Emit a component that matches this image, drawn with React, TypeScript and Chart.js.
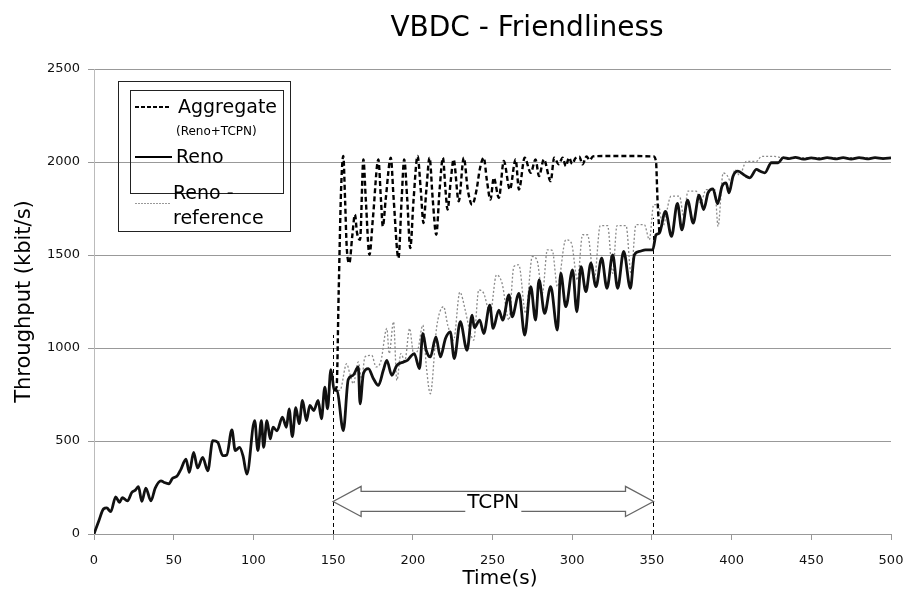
import React, { useEffect, useRef } from 'react';
import { Chart, registerables } from 'chart.js';
Chart.register(...registerables);

// Reno (solid)
const renoT = [0, 3, 6, 8, 10.5, 13.6, 16, 17.8, 21, 23.7, 26, 27.9, 30, 32.5, 35.7, 38.4, 42, 44, 47, 49.3, 52, 54.6, 57.7, 59.8, 62.5, 65, 68.2, 71.4, 74.5, 77.6, 80.8, 83.3, 86.5, 88.6, 91.3, 93.5, 95.9, 100.8, 102.8, 105, 106.4, 108.5, 110.6, 112.3, 114.8, 118.2, 120.7, 122.4, 124.4, 126.6, 128.7, 130.8, 133.3, 135.4, 137.9, 140.6, 142.7, 144.8, 146.5, 148.6, 150.7, 152.5, 156.4, 159.5, 162.5, 165.8, 166.9, 169, 172.1, 175.3, 178.4, 181.5, 183.7, 186.8, 190, 194.2, 196.7, 198.4, 200.9, 204.2, 206.3, 208.4, 211, 214.5, 217.3, 220.5, 223.5, 226, 229.8, 234, 237.2, 238.6, 242, 244.5, 248.3, 250.4, 254, 256.4, 260.3, 262.3, 266.6, 270.2, 274, 277, 279.2, 282.7, 286.5, 290.7, 292.8, 296, 300.2, 302.9, 305.5, 308.6, 311.7, 314.9, 318.5, 321.8, 325.4, 328.5, 332.3, 336.5, 339, 342.1, 346, 350.5, 352.6, 354.7, 358.5, 362.3, 366, 368.8, 372.4, 375.9, 379.6, 382.5, 385.2, 388.3, 391.2, 394, 396.5, 398.4, 400.9, 404, 408.2, 411.4, 415.6, 418, 420.8, 425, 429.2, 432.4, 436, 440, 445, 450, 455, 460, 465, 470, 475, 480, 485, 490, 495, 500];
const renoV = [0, 70, 135, 140, 120, 200, 170, 195, 178, 223, 236, 254, 175, 247, 178, 247, 286, 277, 270, 300, 310, 349, 403, 331, 439, 355, 412, 340, 502, 493, 421, 425, 560, 448, 466, 420, 322, 610, 448, 610, 466, 610, 511, 574, 555, 628, 574, 673, 524, 679, 593, 718, 610, 691, 664, 718, 619, 790, 673, 884, 775, 770, 556, 830, 853, 898, 700, 862, 889, 835, 799, 880, 934, 853, 907, 925, 934, 952, 970, 889, 1078, 988, 952, 1060, 952, 1051, 1087, 943, 1141, 988, 1177, 1110, 1150, 1078, 1231, 1105, 1204, 1150, 1285, 1168, 1294, 1069, 1330, 1150, 1366, 1186, 1330, 1096, 1402, 1222, 1420, 1195, 1438, 1303, 1456, 1330, 1483, 1321, 1501, 1321, 1519, 1321, 1501, 1519, 1528, 1528, 1609, 1618, 1735, 1600, 1778, 1635, 1795, 1672, 1822, 1744, 1834, 1856, 1775, 1870, 1888, 1834, 1924, 1951, 1928, 1915, 1960, 1950, 1942, 1996, 1996, 2023, 2018, 2025, 2015, 2022, 2016, 2024, 2017, 2023, 2016, 2024, 2017, 2023, 2018, 2022];

// Reno - reference (dotted, visible after 150 s)
const refT = [150.7, 154.3, 158.5, 160.5, 162.7, 165.8, 167.9, 170, 174.2, 177, 180, 183.7, 185.2, 187.9, 190, 192.5, 195, 198, 200.5, 203, 206.3, 208.5, 211, 215, 219.3, 222, 225.6, 229.5, 233, 235.5, 238.2, 241.4, 244.5, 248.5, 252.5, 256, 260.3, 263.4, 266.5, 270.8, 275, 278, 281.3, 284.4, 287.5, 290.7, 296, 299.5, 303.3, 306.5, 309.6, 313.8, 317.6, 322.2, 325.4, 328.1, 333.8, 336.9, 340, 345.3, 348.4, 351.1, 354, 356.8, 362, 367.3, 370, 372.6, 377.8, 380.5, 384, 389.5, 391.5, 394.7, 397, 400, 402, 405, 409.3, 415.6, 418.8, 427, 432, 440, 450, 460, 470, 480, 490, 500];
const refV = [775, 772, 916, 862, 808, 925, 835, 952, 961, 898, 930, 1105, 970, 1141, 826, 970, 930, 1105, 970, 985, 1123, 900, 754, 1114, 1222, 1120, 1042, 1300, 1200, 1100, 1042, 1312, 1294, 1186, 1393, 1348, 1150, 1438, 1447, 1186, 1492, 1470, 1294, 1528, 1525, 1330, 1582, 1564, 1366, 1609, 1609, 1366, 1658, 1658, 1402, 1658, 1658, 1402, 1663, 1663, 1582, 1771, 1771, 1654, 1816, 1816, 1708, 1843, 1843, 1780, 1851, 1851, 1654, 1941, 1930, 1887, 1959, 1930, 2003, 2003, 2030, 2030, 2023, 2025, 2022, 2024, 2023, 2024, 2023, 2022];

// Aggregate (Reno+TCPN), dashed, 150..355 s
const aggT = [150.7, 152.2, 153.5, 155, 156.4, 157.5, 158.5, 160.2, 162, 163.7, 165, 166.9, 169, 170.5, 172.8, 175, 178.4, 180, 181.2, 183, 186.2, 188, 191, 193, 194.6, 196.5, 198.4, 200.5, 203, 205, 206.7, 208.5, 210.5, 212.5, 214.7, 216.8, 218.9, 220.5, 221.8, 223.8, 225.6, 228.8, 232, 234.5, 237.2, 240, 242, 244.5, 246.5, 248.7, 250.8, 254, 257.1, 260.9, 264.5, 266.6, 270.2, 274, 277, 279.2, 282.2, 286.5, 288.7, 291.6, 294, 296, 298, 300, 302, 304.5, 306.5, 309, 311, 313, 320, 330, 340, 351, 352.6, 353.5, 354.7];
const aggV = [775, 790, 1300, 1850, 2032, 1800, 1550, 1456, 1600, 1717, 1620, 1582, 2014, 1800, 1501, 1700, 2014, 1800, 1654, 1800, 2023, 1800, 1483, 1800, 2014, 1800, 1537, 1800, 2032, 1850, 1672, 1850, 2023, 1800, 1609, 1850, 2023, 1850, 1744, 1900, 2014, 1789, 2023, 1850, 1771, 1850, 1960, 2023, 1900, 1798, 1915, 1807, 2005, 1852, 2014, 1852, 2023, 1942, 2014, 1924, 2014, 1897, 2023, 1988, 2023, 1978, 2023, 1990, 2020, 2028, 1987, 2030, 2010, 2030, 2032, 2032, 2032, 2030, 2000, 1800, 1618];

const tcpnStart = 150;
const tcpnEnd = 351;
const tcpnLabel = 'TCPN';
const titleText = 'VBDC - Friendliness';
const yTitle = 'Throughput (kbit/s)';
const xTitle = 'Time(s)';

const pts = (t: number[], v: number[]) => t.map((x, i) => ({ x, y: v[i] }));
const FONT = '"DejaVu Sans", Verdana, sans-serif';

const overlay = {
  id: 'overlay',
  beforeDatasetsDraw(chart: any) {
    const { ctx, scales } = chart;
    const xs = scales.x, ys = scales.y;
    ctx.save();
    ctx.strokeStyle = '#000';
    ctx.lineWidth = 1;
    ctx.setLineDash([4, 3]);
    ctx.beginPath();
    ctx.moveTo(Math.round(xs.getPixelForValue(tcpnStart)) + 0.5, ys.getPixelForValue(0));
    ctx.lineTo(Math.round(xs.getPixelForValue(tcpnStart)) + 0.5, ys.getPixelForValue(1070));
    ctx.moveTo(Math.round(xs.getPixelForValue(tcpnEnd)) + 0.5, ys.getPixelForValue(0));
    ctx.lineTo(Math.round(xs.getPixelForValue(tcpnEnd)) + 0.5, ys.getPixelForValue(1700));
    ctx.stroke();
    ctx.restore();
  },
  afterDraw(chart: any) {
    const { ctx, scales, chartArea } = chart;
    const xs = scales.x, ys = scales.y;
    ctx.save();
    // double arrow
    const x1 = xs.getPixelForValue(tcpnStart), x2 = xs.getPixelForValue(tcpnEnd);
    const yc = ys.getPixelForValue(175);
    const hl = 28, hh = 15, sh = 10;
    ctx.beginPath();
    ctx.moveTo(x1, yc);
    ctx.lineTo(x1 + hl, yc - hh);
    ctx.lineTo(x1 + hl, yc - sh);
    ctx.lineTo(x2 - hl, yc - sh);
    ctx.lineTo(x2 - hl, yc - hh);
    ctx.lineTo(x2, yc);
    ctx.lineTo(x2 - hl, yc + hh);
    ctx.lineTo(x2 - hl, yc + sh);
    ctx.lineTo(x1 + hl, yc + sh);
    ctx.lineTo(x1 + hl, yc + hh);
    ctx.closePath();
    ctx.fillStyle = '#fff';
    ctx.fill();
    ctx.strokeStyle = '#666';
    ctx.lineWidth = 1.3;
    ctx.stroke();
    ctx.font = `20px ${FONT}`;
    const tw = ctx.measureText(tcpnLabel).width;
    const cx = (x1 + x2) / 2;
    ctx.fillStyle = '#fff';
    ctx.fillRect(cx - tw / 2 - 2, yc - 8, tw + 4, 20);
    ctx.fillStyle = '#000';
    ctx.textAlign = 'center';
    ctx.textBaseline = 'middle';
    ctx.fillText(tcpnLabel, cx, yc + 1);

    // title
    ctx.font = `28px ${FONT}`;
    ctx.fillText(titleText, 527, 29);
    // axis titles
    ctx.font = `20px ${FONT}`;
    ctx.fillText(xTitle, 500, 579);
    ctx.save();
    ctx.translate(25, (chartArea.top + chartArea.bottom) / 2);
    ctx.rotate(-Math.PI / 2);
    ctx.font = `21px ${FONT}`;
    ctx.fillText(yTitle, 0, 0);
    ctx.restore();

    // legend
    ctx.strokeStyle = '#222';
    ctx.lineWidth = 1;
    ctx.setLineDash([]);
    ctx.strokeRect(118.5, 81.5, 172, 150);
    ctx.strokeRect(130.5, 90.5, 153, 103);
    ctx.lineWidth = 2;
    ctx.strokeStyle = '#000';
    ctx.setLineDash([4, 2]);
    ctx.beginPath(); ctx.moveTo(135, 107); ctx.lineTo(171, 107); ctx.stroke();
    ctx.setLineDash([]);
    ctx.beginPath(); ctx.moveTo(135, 157); ctx.lineTo(172, 157); ctx.stroke();
    ctx.strokeStyle = '#999';
    ctx.lineWidth = 1;
    ctx.setLineDash([2, 1]);
    ctx.beginPath(); ctx.moveTo(135, 203.5); ctx.lineTo(170, 203.5); ctx.stroke();
    ctx.setLineDash([]);
    ctx.fillStyle = '#000';
    ctx.textAlign = 'left';
    ctx.textBaseline = 'alphabetic';
    ctx.font = `19px ${FONT}`;
    ctx.fillText('Aggregate', 178, 113);
    ctx.fillText('Reno', 176, 163);
    ctx.fillText('Reno -', 173, 199);
    ctx.fillText('reference', 173, 224);
    ctx.font = `12px ${FONT}`;
    ctx.fillText('(Reno+TCPN)', 176, 135);
    ctx.restore();
  },
};

export default function App() {
  const ref = useRef<HTMLCanvasElement>(null);
  useEffect(() => {
    document.body.style.margin = '0';
    const chart = new Chart(ref.current!, {
      type: 'line',
      data: {
        datasets: [
          {
            label: 'Aggregate (Reno+TCPN)',
            data: pts(aggT, aggV),
            borderColor: '#000',
            borderWidth: 2.4,
            borderDash: [5, 3],
            pointRadius: 0,
            cubicInterpolationMode: 'monotone',
            order: 1,
          },
          {
            label: 'Reno',
            data: pts(renoT, renoV),
            borderColor: '#111',
            borderWidth: 2.8,
            pointRadius: 0,
            cubicInterpolationMode: 'monotone',
            order: 2,
          },
          {
            label: 'Reno - reference',
            data: pts(refT, refV),
            borderColor: '#8a8a8a',
            borderWidth: 1.3,
            borderDash: [2, 2],
            pointRadius: 0,
            cubicInterpolationMode: 'monotone',
            order: 3,
          },
        ],
      },
      options: {
        responsive: false,
        animation: false,
        devicePixelRatio: 1,
        layout: { padding: { left: 0, right: 15, top: 69, bottom: 0 } },
        plugins: { legend: { display: false }, title: { display: false }, tooltip: { enabled: false } },
        scales: {
          x: {
            type: 'linear',
            min: 0,
            max: 500,
            ticks: { stepSize: 50, color: '#111', font: { family: FONT, size: 13 }, padding: 13, maxRotation: 0, callback: (v: any) => String(v) },
            grid: { drawOnChartArea: false, color: '#999', tickLength: 6 },
            border: { color: '#999' },
            afterFit: (s: any) => { s.height = 63; s.paddingRight = 0; s.paddingLeft = 0; },
          },
          y: {
            min: 0,
            max: 2500,
            ticks: { stepSize: 500, color: '#111', font: { family: FONT, size: 13 }, padding: 8, callback: (v: any) => String(v) },
            grid: { color: '#999', tickLength: 6 },
            border: { color: '#bbb' },
            afterFit: (s: any) => { s.width = 94; s.paddingTop = 0; s.paddingBottom = 0; },
          },
        },
      },
      plugins: [overlay],
    } as any);
    return () => chart.destroy();
  }, []);
  return (
    <div style={{ width: 906, height: 597 }}>
      <canvas ref={ref} width={906} height={597} style={{ display: 'block' }} />
    </div>
  );
}
